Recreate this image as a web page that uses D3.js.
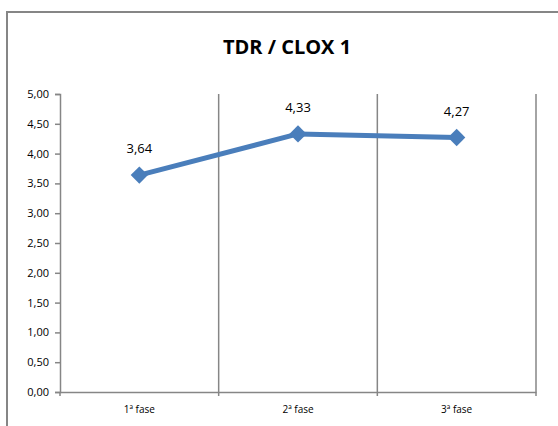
<!DOCTYPE html>
<html>
<head>
<meta charset="utf-8">
<script src="https://cdn.jsdelivr.net/npm/d3@7"></script>
<style>
  body { margin: 0; background: #fff; }
  text { font-family: "Open Sans", "Liberation Sans", sans-serif; fill: #000; }
</style>
</head>
<body>
<div id="chart"></div>
<script>
// chart values
var categories = ["1ª fase", "2ª fase", "3ª fase"];
var values = [3.64, 4.33, 4.27];
var yTicks = [0, 0.5, 1, 1.5, 2, 2.5, 3, 3.5, 4, 4.5, 5];
var title = "TDR / CLOX 1";

var W = 558, H = 426;
var margin = { top: 94, right: 22, bottom: 34, left: 60 };
var w = W - margin.left - margin.right;
var h = H - margin.top - margin.bottom;
var fmt = d => d.toFixed(2).replace(".", ",");

var svg = d3.select("#chart").append("svg")
    .attr("width", W)
    .attr("height", H);

// outer frame
svg.append("rect")
    .attr("x", 7).attr("y", 12)
    .attr("width", 560).attr("height", 420)
    .attr("fill", "none")
    .attr("stroke", "#868686")
    .attr("stroke-width", 2);

svg.append("text")
    .attr("x", 287).attr("y", 54)
    .attr("text-anchor", "middle")
    .style("font-size", "20px")
    .style("font-weight", "bold")
    .text(title);

var g = svg.append("g")
    .attr("transform", "translate(" + margin.left + "," + margin.top + ")");

var x = d3.scaleBand().domain(categories).range([0, w]);
var y = d3.scaleLinear().domain([0, 5]).range([h, 0]);

// vertical gridlines at category boundaries
g.selectAll(".vgrid")
    .data(categories)
    .enter().append("line")
    .attr("x1", d => x(d) + x.bandwidth())
    .attr("x2", d => x(d) + x.bandwidth())
    .attr("y1", 0).attr("y2", h + 4)
    .attr("stroke", "#868686")
    .attr("stroke-width", 1.5);

// y axis
var yAxis = g.append("g")
    .call(d3.axisLeft(y).tickValues(yTicks).tickFormat(fmt).tickSize(5).tickPadding(6));
yAxis.select(".domain").attr("stroke", "#868686").attr("stroke-width", 1.5);
yAxis.selectAll(".tick line").attr("stroke", "#868686").attr("stroke-width", 1.5);
yAxis.selectAll("text").style("font-size", "11px").attr("fill", "#000");

// x axis
var xAxis = g.append("g")
    .attr("transform", "translate(0," + h + ")")
    .call(d3.axisBottom(x).tickSize(0).tickPadding(14));
xAxis.select(".domain").attr("stroke", "#868686").attr("stroke-width", 1.5);
xAxis.selectAll("text").style("font-size", "10px").attr("fill", "#000");
g.append("line")
    .attr("x1", 0).attr("x2", 0)
    .attr("y1", h).attr("y2", h + 4)
    .attr("stroke", "#868686").attr("stroke-width", 1.5);

var cx = (d, i) => x(categories[i]) + x.bandwidth() / 2;

var line = d3.line()
    .x((d, i) => cx(d, i))
    .y(d => y(d));

g.append("path")
    .datum(values)
    .attr("d", line)
    .attr("fill", "none")
    .attr("stroke", "#4a7ebb")
    .attr("stroke-width", 5)
    .attr("stroke-linejoin", "round");

g.selectAll(".marker")
    .data(values)
    .enter().append("path")
    .attr("d", d3.symbol().type(d3.symbolSquare).size(150))
    .attr("transform", (d, i) => "translate(" + cx(d, i) + "," + y(d) + ") rotate(45)")
    .attr("fill", "#4a7ebb");

g.selectAll(".label")
    .data(values)
    .enter().append("text")
    .attr("x", (d, i) => cx(d, i))
    .attr("y", d => y(d) - 22)
    .attr("text-anchor", "middle")
    .style("font-size", "13px")
    .text(fmt);
</script>
</body>
</html>
